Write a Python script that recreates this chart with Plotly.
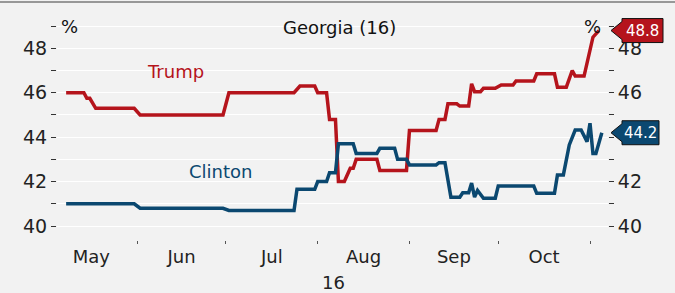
import plotly.graph_objects as go

# ---- data ----
trump_dates = ["2016-05-08", "2016-05-14", "2016-05-15", "2016-05-16", "2016-05-18", "2016-05-31",
               "2016-06-02", "2016-06-30", "2016-07-02", "2016-07-24", "2016-07-26", "2016-07-31",
               "2016-08-01", "2016-08-04", "2016-08-05", "2016-08-07", "2016-08-08", "2016-08-10",
               "2016-08-12", "2016-08-13", "2016-08-14", "2016-08-21", "2016-08-22", "2016-08-31",
               "2016-09-01", "2016-09-10", "2016-09-11", "2016-09-13", "2016-09-14", "2016-09-17",
               "2016-09-18", "2016-09-21", "2016-09-22", "2016-09-23", "2016-09-25", "2016-09-26",
               "2016-09-30", "2016-10-02", "2016-10-06", "2016-10-07", "2016-10-13", "2016-10-14",
               "2016-10-20", "2016-10-21", "2016-10-24", "2016-10-26", "2016-10-27", "2016-10-30",
               "2016-11-02", "2016-11-04"]
trump_values = [46.0, 46.0, 45.75, 45.75, 45.3, 45.3,
                45.0, 45.0, 46.0, 46.0, 46.3, 46.3,
                46.0, 46.0, 44.8, 44.8, 42.0, 42.0,
                42.6, 42.6, 43.0, 43.0, 42.5, 42.5,
                44.3, 44.3, 44.8, 44.8, 45.5, 45.5,
                45.4, 45.4, 46.4, 46.05, 46.05, 46.2,
                46.2, 46.35, 46.35, 46.53, 46.53, 46.85,
                46.85, 46.25, 46.25, 47.0, 46.75, 46.75,
                48.5, 48.8]

clinton_dates = ["2016-05-08", "2016-05-31", "2016-06-02", "2016-06-30", "2016-07-02", "2016-07-24",
                 "2016-07-25", "2016-07-31", "2016-08-01", "2016-08-04", "2016-08-05", "2016-08-07",
                 "2016-08-08", "2016-08-13", "2016-08-14", "2016-08-21", "2016-08-22", "2016-08-27",
                 "2016-08-28", "2016-08-31", "2016-09-01", "2016-09-10", "2016-09-11", "2016-09-13",
                 "2016-09-15", "2016-09-18", "2016-09-19", "2016-09-21", "2016-09-22", "2016-09-23",
                 "2016-09-24", "2016-09-26", "2016-09-30", "2016-10-01", "2016-10-13", "2016-10-14",
                 "2016-10-20", "2016-10-21", "2016-10-23", "2016-10-25", "2016-10-27", "2016-10-29",
                 "2016-10-31", "2016-11-01", "2016-11-02", "2016-11-03", "2016-11-05"]
clinton_values = [41.0, 41.0, 40.8, 40.8, 40.7, 40.7,
                  41.65, 41.65, 42.0, 42.0, 42.4, 42.4,
                  43.7, 43.7, 43.27, 43.27, 43.5, 43.5,
                  43.0, 43.0, 42.75, 42.75, 42.85, 42.85,
                  41.3, 41.3, 41.5, 41.5, 41.93, 41.3,
                  41.6, 41.25, 41.25, 41.8, 41.8, 41.47,
                  41.47, 42.3, 42.3, 43.65, 44.32, 44.32,
                  43.8, 44.63, 43.27, 43.27, 44.2]

y_tick_vals = [40, 41, 42, 43, 44, 45, 46, 47, 48, 49]
y_tick_text_left = ["40", "", "42", "", "44", "", "46", "", "48", ""]
# on the right, the 44 label is hidden behind the Clinton value label in the reference
y_tick_text_right = ["40", "", "42", "", "", "", "46", "", "48", ""]

title_text = "Georgia (16)"
year_text = "16"

RED = "#b5141c"
BLUE = "#0b4870"
FONT = "DejaVu Sans"
YR = [39.37, 49.5]

fig = go.Figure()
fig.add_trace(go.Scatter(x=trump_dates, y=trump_values, mode="lines",
                         line=dict(color=RED, width=3.5), yaxis="y", showlegend=False,
                         hoverinfo="skip"))
fig.add_trace(go.Scatter(x=clinton_dates, y=clinton_values, mode="lines",
                         line=dict(color=BLUE, width=3.5), yaxis="y2", showlegend=False,
                         hoverinfo="skip"))

yaxis_common = dict(range=YR, tickmode="array", tickvals=y_tick_vals,
                    ticks="outside", ticklen=5, tickwidth=1, tickcolor="#333333",
                    showgrid=True, gridcolor="#ffffff", gridwidth=1.2, zeroline=False,
                    showline=False, tickfont=dict(family=FONT, size=19, color="#222222"),
                    fixedrange=True)

fig.update_layout(
    width=675, height=293,
    margin=dict(l=57, r=67, t=15, b=53, autoexpand=False),
    paper_bgcolor="#f2f2f2", plot_bgcolor="#f2f2f2",
    font=dict(family=FONT, color="#222222"),
    xaxis=dict(type="date", range=["2016-05-04 22:00", "2016-11-07 02:00"],
               dtick="M1", tick0="2016-05-01", tickformat="%b", ticklabelmode="period",
               ticks="outside", ticklen=3, tickwidth=1, tickcolor="#555555",
               ticklabelstandoff=-3,
               showgrid=False, zeroline=False, showline=False, fixedrange=True,
               tickfont=dict(family=FONT, size=18, color="#222222")),
    yaxis=dict(side="left", ticktext=y_tick_text_left, **yaxis_common),
    yaxis2=dict(side="right", overlaying="y", ticktext=y_tick_text_right, **yaxis_common),
)

# series labels
fig.add_annotation(x="2016-06-14", y=46.95, text="Trump", showarrow=False,
                   font=dict(family=FONT, size=18, color=RED))
fig.add_annotation(x="2016-06-29", y=42.45, text="Clinton", showarrow=False,
                   font=dict(family=FONT, size=18, color=BLUE))

# title and units
fig.add_annotation(x=0.5136, xref="paper", y=48.95, yref="y", text=title_text, showarrow=False,
                   font=dict(family=FONT, size=18, color="#111111"))
fig.add_annotation(x=0, xref="paper", xanchor="left", xshift=2, y=49, yref="y", text="%",
                   showarrow=False, font=dict(family=FONT, size=18, color="#111111"))
fig.add_annotation(x=1, xref="paper", xanchor="right", xshift=-5, y=49, yref="y", text="%",
                   showarrow=False, font=dict(family=FONT, size=18, color="#111111"))
fig.add_annotation(x=0.501, xref="paper", xanchor="center", y=-0.191, yref="paper",
                   yanchor="middle", text=year_text,
                   showarrow=False, font=dict(family=FONT, size=18, color="#222222"))

# last-value arrow labels
for vals, color, w in [(trump_values, RED, 55), (clinton_values, BLUE, 51)]:
    last = vals[-1]
    fig.add_shape(type="path", xref="paper", yref="y", xsizemode="pixel", ysizemode="pixel",
                  xanchor=1, yanchor=last,
                  path=f"M 3,0 L 14,9 L 14,12 L {w},12 L {w},-12 L 14,-12 L 14,-9 Z",
                  fillcolor=color, line=dict(color="#111111", width=1), layer="above")
    fig.add_annotation(x=1, xref="paper", xanchor="center", xshift=(14 + w) / 2,
                       y=last, yref="y", text=f"{last:.1f}", showarrow=False,
                       font=dict(family=FONT, size=15, color="#ffffff"))

# top border line
fig.add_shape(type="line", xref="paper", yref="paper", x0=-0.11, x1=1.13, y0=1.0578, y1=1.0578,
              line=dict(color="#7a7a7a", width=1.5))

fig.write_html("out.html", config={"displayModeBar": False},
               post_script="document.body.style.margin='0';")
